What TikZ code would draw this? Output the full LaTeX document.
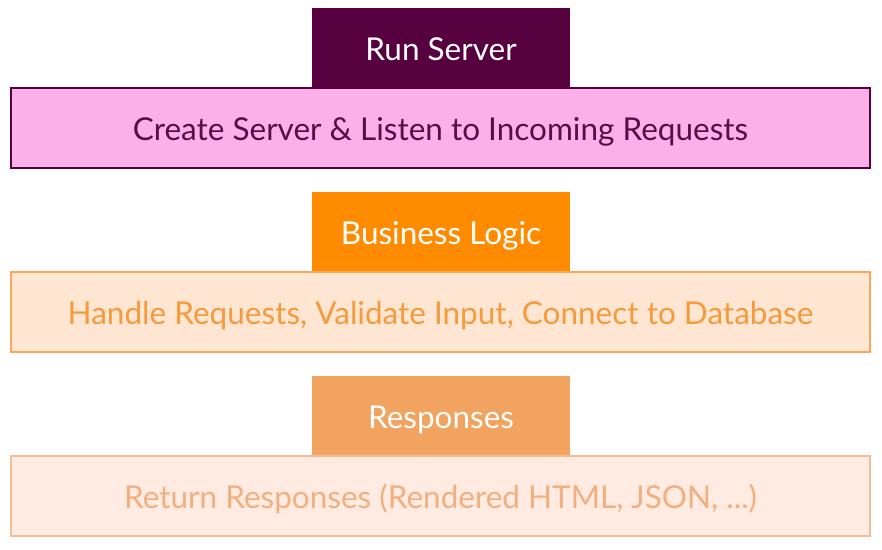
\documentclass[tikz,border=0pt]{standalone}
\usepackage{fontspec}
\setmainfont{Lato}
\definecolor{darkp}{HTML}{57003F}
\definecolor{pinkf}{HTML}{FBB0EA}
\definecolor{ptext}{HTML}{5A0B4A}
\definecolor{orng}{HTML}{FF8C00}
\definecolor{orf}{HTML}{FFE6D2}
\definecolor{orb}{HTML}{F7A85A}
\definecolor{ortext}{HTML}{F79A3C}
\definecolor{respf}{HTML}{F2A360}
\definecolor{rf}{HTML}{FFEBE1}
\definecolor{rb}{HTML}{F5BC95}
\definecolor{rtext}{HTML}{F2B080}
\tikzset{
  head/.style={anchor=north west, minimum width=258pt, minimum height=80pt, inner sep=0pt, outer sep=0pt, text height=24pt, text depth=0pt, font=\fontsize{31.5}{36}\selectfont, text=white},
  body/.style={anchor=north west, minimum width=859pt, minimum height=80pt, inner sep=0pt, outer sep=0pt, text height=24pt, text depth=0pt, font=\fontsize{31.5}{36}\selectfont, line width=1.2pt},
}
\begin{document}
\begin{tikzpicture}[x=1pt,y=-1pt]
\useasboundingbox (0,0) rectangle (882,549);
\fill[white] (0,0) rectangle (882,549);
\node[head, fill=darkp] (h1) at (312,8) {Run Server};
\node[body, fill=pinkf, draw=darkp, text=ptext] (b1) at (11,88) {Create Server \& Listen to Incoming Requests};
\node[head, fill=orng] (h2) at (312,192) {Business Logic};
\node[body, fill=orf, draw=orb, text=ortext] (b2) at (11,272) {Handle Requests, Validate Input, Connect to Database};
\node[head, fill=respf] (h3) at (312,376) {Responses};
\node[body, fill=rf, draw=rb, text=rtext] (b3) at (11,456) {Return Responses (Rendered HTML, JSON, ...)};
\end{tikzpicture}
\end{document}
